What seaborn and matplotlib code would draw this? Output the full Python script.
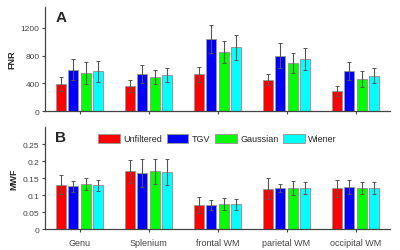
import numpy as np
import pandas as pd
import seaborn as sns
import matplotlib.pyplot as plt

regions = ["Genu", "Splenium", "frontal WM", "parietal WM", "occipital WM"]
methods = ["Unfiltered", "TGV", "Gaussian", "Wiener"]
colors = ["#ff0000", "#0000ff", "#00ff00", "#00ffff"]

# FNR means / sd per method (order: regions)
fnr_mean = {
    "Unfiltered": [392, 365, 530, 456, 289],
    "TGV": [600, 534, 1044, 799, 582],
    "Gaussian": [549, 495, 852, 697, 466],
    "Wiener": [572, 520, 924, 751, 510],
}
fnr_sd = {
    "Unfiltered": [100, 87, 105, 78, 72],
    "TGV": [150, 135, 200, 183, 130],
    "Gaussian": [160, 100, 160, 145, 112],
    "Wiener": [155, 100, 180, 160, 111],
}
# MWF means / sd
mwf_mean = {
    "Unfiltered": [0.131, 0.170, 0.071, 0.119, 0.121],
    "TGV": [0.127, 0.166, 0.072, 0.121, 0.124],
    "Gaussian": [0.133, 0.170, 0.074, 0.121, 0.121],
    "Wiener": [0.129, 0.169, 0.074, 0.121, 0.121],
}
mwf_sd = {
    "Unfiltered": [0.028, 0.034, 0.023, 0.031, 0.025],
    "TGV": [0.016, 0.041, 0.015, 0.012, 0.020],
    "Gaussian": [0.017, 0.037, 0.018, 0.020, 0.018],
    "Wiener": [0.016, 0.038, 0.016, 0.018, 0.017],
}


def to_long(means, sds):
    rows = []
    for m in methods:
        for r, v, e in zip(regions, means[m], sds[m]):
            rows.append({"region": r, "method": m, "value": v, "sd": e})
    return pd.DataFrame(rows)


sns.set_style("ticks")
plt.rcParams["font.family"] = ["Liberation Sans", "DejaVu Sans"]

fig = plt.figure(figsize=(4, 2.51), dpi=100)
ax_a = fig.add_axes([0.1125, 0.553, 0.8625, 0.415])
ax_b = fig.add_axes([0.1125, 0.0825, 0.8625, 0.4065])

panels = [
    (ax_a, to_long(fnr_mean, fnr_sd), (0, 1500), [0, 400, 800, 1200], ["0", "400", "800", "1200"], "FNR", "A"),
    (ax_b, to_long(mwf_mean, mwf_sd), (0, 0.3), [0, 0.05, 0.1, 0.15, 0.2, 0.25],
     ["0", "0.05", "0.1", "0.15", "0.2", "0.25"], "MWF", "B"),
]

for ax, df, ylim, yt, ytl, ylab, letter in panels:
    sns.barplot(data=df, x="region", y="value", hue="method", hue_order=methods,
                palette=colors, width=0.72, gap=0.2, errorbar=None, ax=ax,
                edgecolor="#999999", linewidth=0.7, saturation=1, legend=(letter == "B"))
    for cont, m in zip(ax.containers, methods):
        sub = df[df["method"] == m]
        xs = [b.get_x() + b.get_width() / 2 for b in cont]
        ax.errorbar(xs, sub["value"].values, yerr=sub["sd"].values, fmt="none",
                    ecolor="#555555", elinewidth=0.8, capsize=1.6, capthick=0.7, zorder=5)
    ax.set_xlim(-0.5, 4.5)
    ax.set_ylim(*ylim)
    ax.set_yticks(yt)
    ax.set_yticklabels(ytl)
    ax.set_xlabel("")
    ax.set_ylabel(ylab, fontsize=6.5, fontweight="bold", labelpad=3)
    ax.tick_params(axis="both", labelsize=6, colors="#444444", length=2.5, width=0.8, pad=1.5)
    ax.tick_params(axis="x", labelsize=6.5, pad=4)
    for s in ["left", "bottom"]:
        ax.spines[s].set_color("#444444")
        ax.spines[s].set_linewidth(0.9)
    sns.despine(ax=ax)
    ax.text(0.03, 0.97, letter, transform=ax.transAxes, fontsize=11,
            fontweight="bold", va="top", ha="left")

ax_a.set_xticklabels([])
ax_b.legend(loc="upper center", bbox_to_anchor=(0.5, 1.0), ncol=4, frameon=False,
            fontsize=6.5, handlelength=2.4, handleheight=1.2, handletextpad=0.4,
            columnspacing=0.5, borderaxespad=0.3)

fig.savefig("out.png", dpi=100)
